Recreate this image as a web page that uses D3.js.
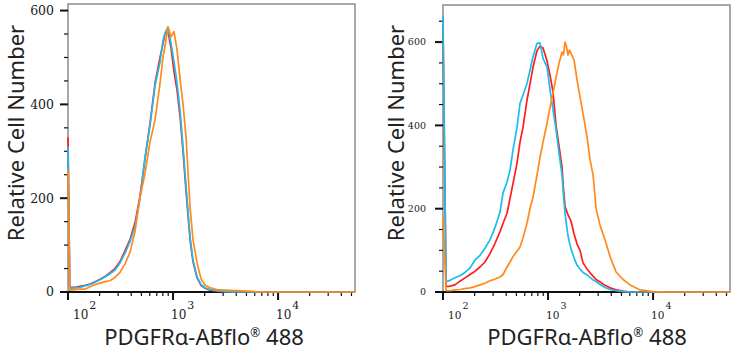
<!DOCTYPE html>
<html>
<head>
<meta charset="utf-8">
<script src="https://cdn.jsdelivr.net/npm/d3@7"></script>
<style>
  body { margin: 0; background: #fff; }
  svg { display: block; }
</style>
</head>
<body>
<svg id="chart" width="737" height="350"></svg>
<script>
// fluorescence bins (left panel) and the counts
const leftBins = [100, 104, 117, 130, 145, 162, 181, 202, 225, 251, 280, 313, 349, 390, 435, 485, 541, 604, 674, 752, 803, 839, 896, 957, 1022, 1092, 1166, 1245, 1330, 1452, 1550, 1693, 1848, 2017, 2251, 2624, 3128, 3895, 5069, 6740, 16200, 54000]
const leftRed = [330, 10, 10, 12, 14, 17, 22, 27, 33, 41, 50, 65, 88, 112, 148, 205, 285, 360, 445, 500, 530, 550, 555, 520, 470, 430, 375, 300, 215, 112, 64, 30, 14, 8, 4, 2, 1, 0, 0, 0, 0, 0]
const leftCyan = [310, 8, 9, 10, 13, 16, 21, 26, 32, 39, 47, 62, 83, 108, 140, 200, 285, 355, 440, 490, 537, 552, 565, 530, 490, 445, 388, 309, 225, 117, 68, 32, 16, 9, 5, 3, 1, 0, 0, 0, 0, 0]
const leftOrange = [260, 4, 5, 6, 6, 11, 16, 19, 22, 24, 31, 42, 60, 85, 130, 202, 253, 320, 367, 445, 501, 525, 565, 544, 555, 516, 455, 400, 330, 181, 111, 62, 28, 15, 9, 5, 4, 3, 2, 0, 0, 0]

// right panel
const rightBins = [100, 107, 117, 130, 145, 162, 181, 202, 225, 251, 280, 313, 349, 373, 407, 435, 464, 507, 541, 578, 631, 674, 720, 786, 839, 896, 978, 1045, 1116, 1192, 1273, 1359, 1400, 1452, 1500, 1550, 1600, 1656, 1768, 1889, 2017, 2154, 2352, 2512, 2683, 2865, 3128, 3491, 3895, 4443, 5181, 6039, 7518, 10000, 14520, 28030, 54000]
const rightRed = [640, 13, 14, 17, 26, 34, 42, 50, 60, 72, 92, 117, 145, 165, 189, 225, 260, 310, 360, 396, 461, 500, 540, 580, 590, 586, 555, 520, 480, 400, 350, 300, 250, 205, 195, 185, 178, 170, 140, 115, 100, 70, 55, 46, 38, 30, 24, 16, 10, 5, 2, 0, 0, 0, 0, 0, 0]
const rightCyan = [665, 25, 28, 34, 39, 47, 58, 77, 88, 105, 125, 155, 192, 238, 264, 293, 341, 396, 453, 473, 501, 533, 565, 597, 598, 561, 540, 485, 437, 390, 333, 281, 235, 190, 160, 135, 118, 104, 82, 64, 55, 47, 41, 35, 29, 25, 18, 11, 6, 3, 1, 0, 0, 0, 0, 0, 0]
const rightOrange = [180, 3, 3, 5, 6, 8, 10, 13, 17, 21, 27, 31, 36, 42, 60, 72, 85, 98, 108, 130, 165, 201, 228, 281, 324, 360, 405, 444, 478, 515, 550, 576, 569, 600, 588, 569, 581, 573, 557, 509, 468, 429, 372, 317, 281, 201, 160, 125, 85, 48, 30, 17, 5, 1, 0, 0, 0]

const xDomain = [100, 54000]
const majorTicks = [100, 1000, 10000]
const tickExp = ['2', '3', '4']
const xTitle = 'PDGFRα-ABflo'
const xTitleEnd = ' 488'
const yTitle = 'Relative Cell Number'
const colors = {red: '#ff1d1d', cyan: '#1bbdec', orange: '#ff8a1a'}

const svg = d3.select('#chart')

function minorTicks() {
    const out = []
    for (const d of [100, 1000, 10000]) {
        for (let k = 2; k <= 9; k++) {
            if (d * k <= xDomain[1]) out.push(d * k)
        }
    }
    return out
}

function drawPanel(opt) {
    const g = svg.append('g')
    const x = d3.scaleLog().domain(xDomain).range([opt.left, opt.right])
    const y = d3.scaleLinear().domain([0, opt.yMax]).range([opt.bottom, opt.top])

    // frame
    g.append('rect')
        .attr('x', opt.left).attr('y', opt.top)
        .attr('width', opt.right - opt.left).attr('height', opt.bottom - opt.top)
        .attr('fill', 'none').attr('stroke', '#8c8c8c').attr('stroke-width', 1.5)

    // y ticks
    const yMinor = d3.range(50, opt.yMax, 50).filter(v => v % 200 != 0)
    g.selectAll('.ymin').data(yMinor).join('line')
        .attr('x1', opt.left - 4).attr('x2', opt.left)
        .attr('y1', d => y(d)).attr('y2', d => y(d))
        .attr('stroke', '#111').attr('stroke-width', 1.2)
    const yMajor = [0, 200, 400, 600]
    g.selectAll('.ymaj').data(yMajor).join('line')
        .attr('x1', opt.left - 8).attr('x2', opt.left)
        .attr('y1', d => y(d)).attr('y2', d => y(d))
        .attr('stroke', '#111').attr('stroke-width', 2)
    g.selectAll('.ylab').data(yMajor).join('text')
        .attr('x', opt.left - opt.yLabGap).attr('y', d => y(d)).attr('dy', '0.35em')
        .attr('text-anchor', 'end')
        .style('font-family', '"DejaVu Serif", serif').style('font-size', opt.yLabSize + 'px')
        .attr('fill', '#1a1a1a')
        .text(d => d)

    // x axis
    g.append('line')
        .attr('x1', opt.left).attr('x2', opt.right)
        .attr('y1', opt.bottom).attr('y2', opt.bottom)
        .attr('stroke', '#111').attr('stroke-width', 2)
    g.selectAll('.xmin').data(minorTicks()).join('line')
        .attr('x1', d => x(d)).attr('x2', d => x(d))
        .attr('y1', opt.bottom).attr('y2', opt.bottom + 4)
        .attr('stroke', '#111').attr('stroke-width', 1.2)
    g.selectAll('.xmaj').data(majorTicks).join('line')
        .attr('x1', d => x(d)).attr('x2', d => x(d))
        .attr('y1', opt.bottom).attr('y2', opt.bottom + 8)
        .attr('stroke', '#111').attr('stroke-width', 2)
    const xl = g.selectAll('.xlab').data(majorTicks).join('text')
        .attr('x', (d, i) => x(d) + (i == 0 ? 5 : -2))
        .attr('y', opt.bottom + 27)
        .style('font-family', '"DejaVu Serif", serif').style('font-size', opt.xLabSize + 'px')
        .attr('fill', '#1a1a1a')
    xl.append('tspan').text('10')
    xl.append('tspan').attr('dy', -10).attr('dx', 1).style('font-size', (opt.xLabSize - 1) + 'px')
        .text((d, i) => tickExp[i])

    // curves
    const line = d3.line().x(d => x(d[0])).y(d => y(d[1]))
    for (const s of opt.series) {
        const pts = opt.bins.map((b, i) => [b, s.values[i]])
        g.append('path')
            .datum(pts)
            .attr('d', line)
            .attr('fill', 'none')
            .attr('stroke', s.color)
            .attr('stroke-width', 1.7)
            .attr('stroke-linejoin', 'round')
    }

    // titles
    const xt = g.append('text')
        .attr('x', opt.xTitleX).attr('y', 345)
        .attr('text-anchor', 'middle')
        .style('font-family', '"Noto Sans", sans-serif').style('font-size', '22px')
        .attr('fill', '#222')
    xt.append('tspan').text(xTitle)
    xt.append('tspan').attr('dy', -8).style('font-size', '12px').text('®')
    xt.append('tspan').attr('dy', 8).text(xTitleEnd)

    g.append('text')
        .attr('transform', 'translate(' + opt.yTitleX + ',133) rotate(-90)')
        .attr('text-anchor', 'middle')
        .style('font-family', '"Noto Sans", sans-serif').style('font-size', '22px')
        .attr('fill', '#222')
        .text(yTitle)
}

drawPanel({
    left: 68, right: 355, top: 4, bottom: 292, yMax: 614,
    yLabGap: 14, yLabSize: 12.5, xLabSize: 12, xTitleX: 204, yTitleX: 24,
    bins: leftBins,
    series: [
        {color: colors.red, values: leftRed},
        {color: colors.cyan, values: leftCyan},
        {color: colors.orange, values: leftOrange}
    ]
})

drawPanel({
    left: 443, right: 730, top: 5, bottom: 292, yMax: 689,
    yLabGap: 17, yLabSize: 9.5, xLabSize: 10.5, xTitleX: 587, yTitleX: 404,
    bins: rightBins,
    series: [
        {color: colors.red, values: rightRed},
        {color: colors.cyan, values: rightCyan},
        {color: colors.orange, values: rightOrange}
    ]
})
</script>
</body>
</html>
